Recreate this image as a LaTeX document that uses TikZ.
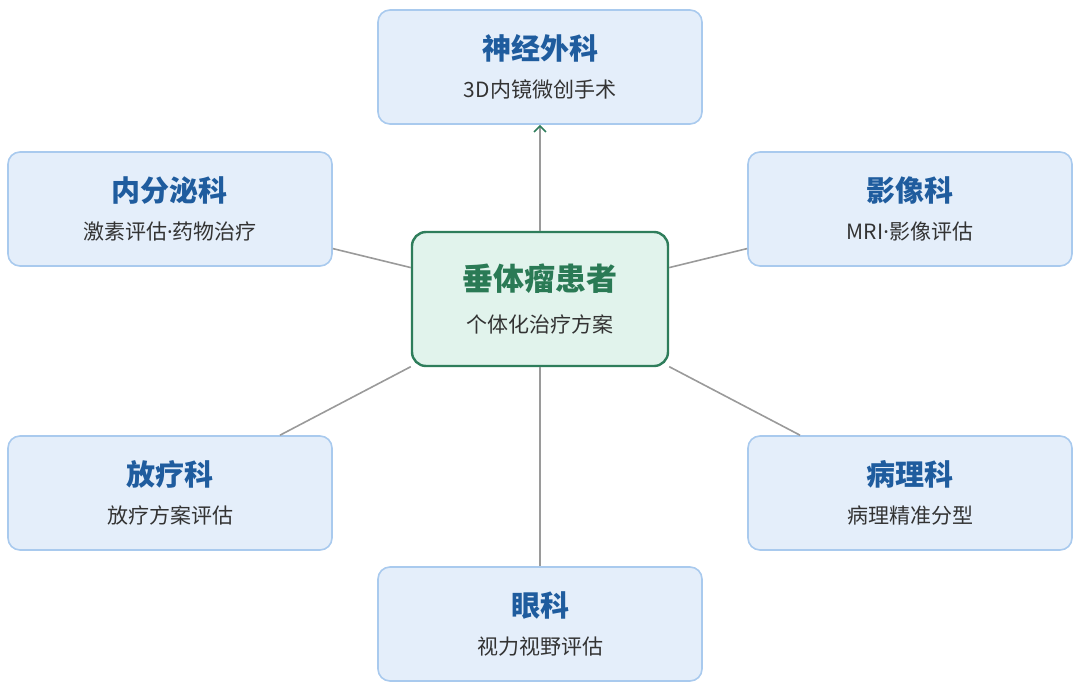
\documentclass[tikz,border=0pt]{standalone}
\usepackage{fontspec}
\setmainfont{Noto Sans CJK SC}
\newfontfamily\latinf{Noto Sans}
\newcommand{\mdot}{{\latinf ·}}
\usetikzlibrary{arrows.meta}
\definecolor{bfill}{HTML}{E4EEFA}
\definecolor{bdraw}{HTML}{A9CAEE}
\definecolor{btext}{HTML}{1F5C9E}
\definecolor{cfill}{HTML}{E1F3EC}
\definecolor{cdraw}{HTML}{2E7D5B}
\definecolor{ctext}{HTML}{2A7A55}
\definecolor{stext}{HTML}{333333}
\definecolor{ln}{HTML}{9A9A9A}
\begin{document}
\begin{tikzpicture}[x=1pt,y=-1pt,
  box/.style={draw=bdraw,fill=bfill,line width=1.6pt,rounded corners=12pt,minimum width=324pt,minimum height=114pt,align=center},
  cen/.style={draw=cdraw,fill=cfill,line width=2.4pt,rounded corners=14pt,minimum width=256pt,minimum height=134pt,align=center},
  con/.style={draw=ln,line width=1.6pt}]
\useasboundingbox (0,0) rectangle (1080,686);
\newcommand{\bx}[4]{\node[box] (#1) at #2 {{\fontsize{29}{34}\selectfont\bfseries\color{btext}#3}\\[16pt]{\fontsize{21}{26}\selectfont\color{stext}#4}};}
\bx{t}{(540,67)}{神经外科}{3D内镜微创手术}
\bx{lu}{(170,209)}{内分泌科}{激素评估\mdot 药物治疗}
\bx{ru}{(910,209)}{影像科}{MRI\mdot 影像评估}
\bx{ll}{(170,493)}{放疗科}{放疗方案评估}
\bx{rl}{(910,493)}{病理科}{病理精准分型}
\bx{b}{(540,624)}{眼科}{视力视野评估}
\node[cen] (c) at (540,299) {{\fontsize{31}{36}\selectfont\bfseries\color{ctext}垂体瘤患者}\\[20pt]{\fontsize{21}{26}\selectfont\color{stext}个体化治疗方案}};
\draw[con,-{Straight Barb[length=6pt,width=12pt,color=cdraw]}] (c) -- (t);
\draw[con] (c) -- (lu);
\draw[con] (c) -- (ru);
\draw[con] (c) -- (ll);
\draw[con] (c) -- (rl);
\draw[con] (c) -- (b);
\end{tikzpicture}
\end{document}
